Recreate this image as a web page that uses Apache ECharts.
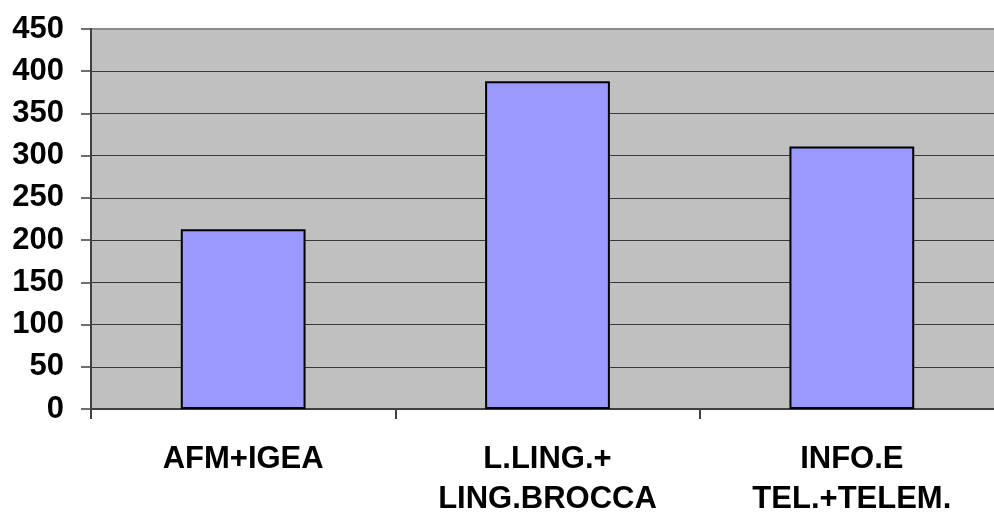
<!DOCTYPE html>
<html>
<head>
<meta charset="utf-8">
<style>
  html, body { margin: 0; padding: 0; background: #ffffff; }
  #chart { width: 994px; height: 514px; }
</style>
<script src="https://cdn.jsdelivr.net/npm/echarts@6/dist/echarts.min.js"></script>
</head>
<body>
<div id="chart"></div>
<script>
// Course groups and their counts
const categories = ['AFM+IGEA', 'L.LING.+\nLING.BROCCA', 'INFO.E\nTEL.+TELEM.'];
const counts = [213, 388, 311];

const yMin = 0;
const yMax = 450;
const yStep = 50;

const FONT = '"Liberation Sans", Arial, Helvetica, sans-serif';

const chart = echarts.init(document.getElementById('chart'), null, { renderer: 'canvas' });

chart.setOption({
  animation: false,
  backgroundColor: '#ffffff',
  grid: {
    left: 91,
    top: 29,
    right: -10,
    bottom: 105,
    outerBoundsMode: 'none',
    containLabel: false,
    show: true,
    backgroundColor: '#c0c0c0',
    borderColor: '#8a8a8a',
    borderWidth: 2
  },
  xAxis: {
    type: 'category',
    data: categories,
    axisLine: { show: true, lineStyle: { color: '#404040', width: 2 } },
    axisTick: { show: true, alignWithLabel: false, length: 10, lineStyle: { color: '#404040', width: 2 } },
    axisLabel: {
      color: '#000000',
      fontFamily: FONT,
      fontWeight: 'bold',
      fontSize: 31,
      lineHeight: 40,
      margin: 30,
      interval: 0
    },
    splitLine: { show: false }
  },
  yAxis: {
    type: 'value',
    min: yMin,
    max: yMax,
    interval: yStep,
    axisLine: { show: true, lineStyle: { color: '#404040', width: 2 } },
    axisTick: { show: true, length: 10, lineStyle: { color: '#404040', width: 1.5 } },
    axisLabel: {
      color: '#000000',
      fontFamily: FONT,
      fontWeight: 'bold',
      fontSize: 31,
      margin: 27
    },
    splitLine: {
      show: true,
      showMaxLine: false,
      lineStyle: { color: '#383838', width: 1.2 }
    }
  },
  series: [{
    type: 'bar',
    data: counts,
    barWidth: '41%',
    itemStyle: {
      color: '#9999ff',
      borderColor: '#000000',
      borderWidth: 2
    }
  }]
});
</script>
</body>
</html>
